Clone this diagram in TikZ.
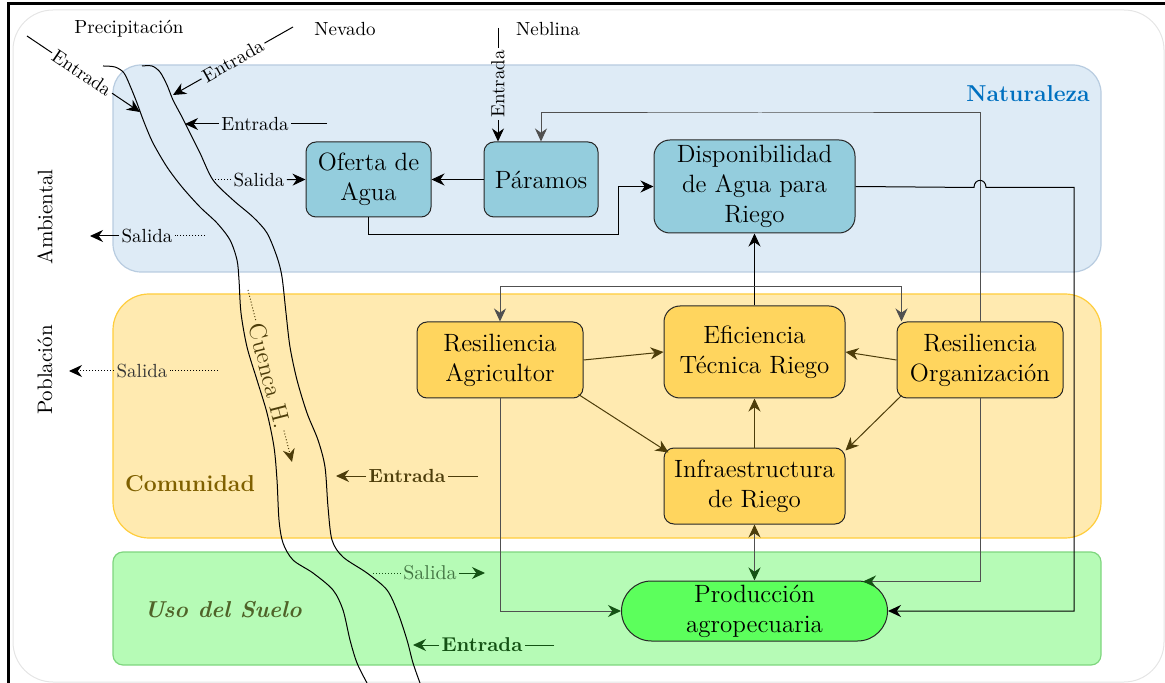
\documentclass[tikz,border=0pt]{standalone}
\usepackage{tikz}
\usetikzlibrary{positioning, arrows.meta, calc}
\definecolor{natfill}{HTML}{DEEBF6}
\definecolor{natline}{HTML}{B8CCE0}
\definecolor{comfill}{HTML}{FFEAB0}
\definecolor{comline}{HTML}{FFCD3C}
\definecolor{usofill}{HTML}{B6FBB6}
\definecolor{usoline}{HTML}{7ED67E}
\definecolor{aqua}{HTML}{94CDDD}
\definecolor{gold}{HTML}{FFD55E}
\definecolor{prodgreen}{HTML}{5CFF5C}
\definecolor{natblue}{HTML}{0070C0}
\definecolor{combrown}{HTML}{7F6000}
\definecolor{usoolive}{HTML}{4F6228}
\definecolor{arrbrown}{HTML}{4D3D0A}
\definecolor{arrgreen}{HTML}{145214}
\definecolor{wire}{HTML}{505050}
\newcommand{\boxfont}{\fontsize{12.5}{15}\selectfont}
\newcommand{\lblfont}{\fontsize{9.5}{11}\selectfont}
\newcommand{\zonefont}{\fontsize{11.5}{14}\selectfont\bfseries}
\newcommand{\sidefont}{\fontsize{10.5}{12}\selectfont}

\begin{document}
\begin{tikzpicture}[
  x=0.5pt, y=-0.5pt, line width=0.5pt,
  >={Stealth[length=6.5pt,width=6pt]},
  grnhead/.tip={Stealth[length=6.5pt,width=6pt,color=arrgreen]},
  brnhead/.tip={Stealth[length=6.5pt,width=6pt,color=arrbrown]},
  zone/.style={rounded corners=14pt, line width=0.6pt},
  natbox/.style={draw=black!85, fill=aqua, rounded corners=5pt,
              minimum height=37.5pt, align=center, font=\boxfont,
              inner sep=0pt},
  combox/.style={draw=black!85, fill=gold, rounded corners=5pt,
              minimum height=38pt, align=center, font=\boxfont,
              inner sep=0pt},
  prodbox/.style={draw=black!85, fill=prodgreen, rounded corners=15pt,
              minimum width=133pt, minimum height=30pt, align=center,
              font=\boxfont, inner sep=0pt},
  lbl/.style={font=\lblfont, inner sep=1pt},
  sidelbl/.style={font=\sidefont, inner sep=1pt},
  wire/.style={draw=wire}
]
  \useasboundingbox (0,0) rectangle (1165,683);

  % Frame
  \draw[black!10, rounded corners=20pt] (13,10) rectangle (1164,682);
  \draw[line width=1.5pt] (1165,4) -- (8,4) -- (8,683);

  % Zones
  \draw[zone, draw=natline, fill=natfill] (113,65) rectangle (1101,272);
  \draw[zone, draw=comline, fill=comfill, rounded corners=18pt]
    (113,294) rectangle (1101,538);
  \draw[zone, draw=usoline, fill=usofill, rounded corners=5pt]
    (113,552) rectangle (1101,665);
  \node[font=\zonefont, text=natblue] (natlbl) at (1028,94) {Naturaleza};
  \node[font=\zonefont, text=combrown] (comlbl) at (190,484) {Comunidad};
  \node[font=\zonefont\itshape, text=usoolive] (usolbl) at (223,610)
    {Uso del Suelo};
  \node[sidelbl, rotate=90] (amb) at (45,217) {Ambiental};
  \node[sidelbl, rotate=90] (pob) at (45,370) {Población};

  % River
  \draw plot[smooth] coordinates {(103,66) (115,67) (124,73) (131,88)
    (137,103) (144,122) (153,143) (167,167) (182,187) (200,207) (217,223)
    (230,240) (237,260) (239,280) (241,313) (247,347) (257,380) (267,413)
    (274,447) (277,480) (279,520) (283,543) (293,560) (313,573) (333,590)
    (343,610) (350,640) (357,663) (367,683)};
  \draw plot[smooth] coordinates {(142,66) (152,66) (160,72) (167,85)
    (173,100) (182,117) (190,133) (200,153) (213,180) (233,200) (253,217)
    (267,233) (277,257) (282,277) (286,313) (290,347) (297,380) (307,413)
    (318,440) (325,467) (328,507) (332,540) (343,557) (367,573) (387,590)
    (398,613) (407,640) (413,663) (420,683)};

  % Inputs
  \node[lbl] (precip) at (129,29) {Precipitación};
  \node[lbl] (nevado) at (345,29) {Nevado};
  \node[lbl] (neblina) at (548,29) {Neblina};

  \coordinate (pre0) at (27,36);
  \coordinate (pre1) at (140,112);
  \node[lbl, rotate=-34] (preent) at (82,73) {Entrada};
  \draw (pre0) -- (preent);
  \draw[->] (preent) -- (pre1);

  \coordinate (nev0) at (293,27);
  \coordinate (nev1) at (173,95);
  \node[lbl, rotate=29.5] (nevent) at (233,61) {Entrada};
  \draw (nev0) -- (nevent);
  \draw[->] (nevent) -- (nev1);

  \coordinate (ent0) at (327,124);
  \coordinate (ent1) at (185,124);
  \node[lbl] (entcue) at (255,124) {Entrada};
  \draw (ent0) -- (entcue);
  \draw[->] (entcue) -- (ent1);

  \coordinate (neb0) at (498,28);
  \node[lbl, rotate=90] (entneb) at (498,84) {Entrada};
  \draw (neb0) -- (entneb);

  % Naturaleza
  \node[natbox, minimum width=57pt] (param) at (541,179.5) {Páramos};
  \node[natbox, minimum width=62.5pt, left=26pt of param] (oferta)
    {Oferta de\\Agua};
  \node[combox, minimum width=90.5pt, minimum height=46pt,
    rounded corners=8pt] (efic) at (754.5,352) {Eficiencia\\Técnica Riego};
  \node[natbox, minimum width=100.5pt, minimum height=46.5pt,
    rounded corners=8pt, above=36pt of efic] (disp)
    {Disponibilidad\\de Agua para\\Riego};

  \draw[->] (entneb) -- (entneb |- param.north);
  \draw[->] (param) -- (oferta);
  \draw[->] (oferta.south) |- (618,235) |- (disp.west);

  \coordinate (cue0) at (212,180);
  \node[lbl] (salofe) at (259,180) {Salida};
  \draw[densely dotted] (cue0) -- (salofe);
  \draw[->] (salofe) -- (oferta.west);

  \coordinate (amb0) at (205,236);
  \coordinate (amb1) at (90,236);
  \node[lbl] (salamb) at (147,236) {Salida};
  \draw[densely dotted] (amb0) -- (salamb);
  \draw[->] (salamb) -- (amb1);

  % Comunidad
  \node[combox, minimum width=90.5pt, below=24.5pt of efic] (infra)
    {Infraestructura\\de Riego};
  \node[combox, minimum width=83pt] (resagr) at (500,360)
    {Resiliencia\\Agricultor};
  \node[combox, minimum width=83pt] (resorg) at (980,360)
    {Resiliencia\\Organización};

  \coordinate (bus) at (754.5,287);
  \draw[->] (efic.north) -- (efic.north |- disp.south);
  \draw[wire, ->] (bus) -| (resagr.north);
  \draw[wire, ->] (bus) -| ($(resorg.north west)+(5,0)$);
  \draw[wire, ->] (resorg.north) |- (760,113) -| (param.north);

  \draw[arrbrown, ->] (resagr.east) -- (efic.west);
  \draw[arrbrown, ->] ($(resagr.south east)+(-5,-4)$) --
    ($(infra.north west)+(5,5)$);
  \draw[arrbrown, ->] (resorg.west) -- (efic.east);
  \draw[arrbrown, ->] ($(resorg.south west)+(5,-3)$) --
    ($(infra.north east)+(0,3)$);
  \draw[arrbrown, ->] (infra) -- (efic);

  \coordinate (pob0) at (218,371);
  \coordinate (pob1) at (69,371);
  \node[lbl, text=black!80] (salpob) at (142,371) {Salida};
  \draw[densely dotted] (pob0) -- (salpob);
  \draw[densely dotted, ->] (salpob) -- (pob1);

  \coordinate (cuen0) at (248,290);
  \coordinate (cuen1) at (292,462);
  \node[font=\fontsize{12}{14}\selectfont, text=arrbrown, inner sep=1pt,
    rotate=-75.6] (cuenca) at (270,376) {Cuenca H.};
  \draw[arrbrown, densely dotted] (cuen0) -- (cuenca);
  \draw[arrbrown, densely dotted, -brnhead] (cuenca) -- (cuen1);

  \coordinate (com0) at (478,476);
  \coordinate (com1) at (336,476);
  \node[lbl, font=\lblfont\bfseries, text=arrbrown] (entcom) at (407,476)
    {Entrada};
  \draw[arrbrown] (com0) -- (entcom);
  \draw[arrbrown, ->] (entcom) -- (com1);

  % Uso del Suelo
  \node[prodbox, below=28pt of infra] (prod) {Producción\\agropecuaria};

  \draw[wire, brnhead-grnhead] (infra.south) -- (prod.north);
  \draw[wire, -grnhead] (resagr.south) |- (prod.west);
  \draw[wire, -grnhead] (resorg.south) |- ($(prod.north east)+(-25,1)$);
  \draw[->] (disp.east) -- (974,187.5)
    .. controls (974,178) and (986,178) .. (986,187.5)
    -- (1074,187.5) |- (prod.east);

  \coordinate (uso0) at (373,573);
  \coordinate (uso1) at (485,573);
  \node[lbl, font=\fontsize{10}{12}\selectfont, text=arrgreen!80] (saluso)
    at (430,573) {Salida};
  \draw[arrgreen, densely dotted] (uso0) -- (saluso);
  \draw[arrgreen, ->] (saluso) -- (uso1);

  \coordinate (usoi0) at (554,645);
  \coordinate (usoi1) at (413,645);
  \node[lbl, font=\fontsize{10}{12}\selectfont\bfseries, text=arrgreen]
    (entuso) at (482,645) {Entrada};
  \draw[arrgreen] (usoi0) -- (entuso);
  \draw[arrgreen, ->] (entuso) -- (usoi1);
\end{tikzpicture}
\end{document}
